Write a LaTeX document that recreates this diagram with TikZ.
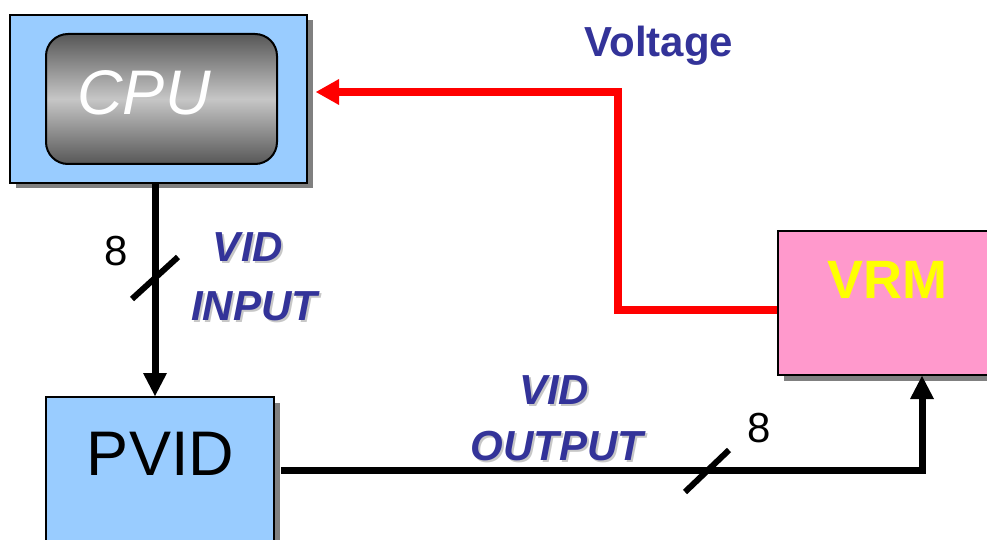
\documentclass[tikz,border=0pt]{standalone}
\usepackage{fontspec}
\setmainfont{Liberation Sans}
\usetikzlibrary{arrows.meta,shadows}
\definecolor{boxblue}{HTML}{99CCFF}
\definecolor{boxpink}{HTML}{FF99CC}
\definecolor{lblue}{HTML}{333399}
\definecolor{shadegray}{HTML}{808080}
\definecolor{cpudark}{HTML}{575757}
\definecolor{cpulight}{HTML}{C6C6C6}
\definecolor{vrmyellow}{HTML}{FFFF00}
\definecolor{wirered}{HTML}{FF0000}
\newcommand\shadowedtext[1]{\makebox[0pt][l]{\hspace{2pt}\raisebox{-2pt}{\textcolor{black!22}{#1}}}#1}
\begin{document}
\begin{tikzpicture}[x=1pt,y=-1pt,
  block/.style={draw=black,line width=2pt,inner sep=0pt,
    drop shadow={shadow xshift=5.5pt,shadow yshift=-5.5pt,fill=shadegray,opacity=1}},
  chip/.style={draw=black,line width=2pt,inner sep=0pt,rounded corners=22pt,
    top color=cpudark,bottom color=cpudark,middle color=cpulight},
  bigtxt/.style={anchor=base,inner sep=0pt,font=\fontsize{63}{63}\selectfont},
  numtxt/.style={anchor=base,inner sep=0pt,font=\fontsize{42}{42}\selectfont},
  vidtxt/.style={anchor=base,inner sep=0pt,text=lblue,font=\bfseries\itshape\fontsize{42}{42}\selectfont},
  conn/.style={line width=7pt,line join=miter,draw=black,
    -{Triangle[length=23pt,width=24pt,line width=0pt]}},
  redconn/.style={line width=7.5pt,line join=miter,draw=wirered,
    -{Triangle[length=23pt,width=26pt,line width=0pt]}},
  slashmark/.style={line width=6pt,draw=black}]
\useasboundingbox (0,0) rectangle (987,540);
\clip (0,0) rectangle (987,540);

% boxes
\node[block,fill=boxblue,minimum width=297pt,minimum height=168pt] (cpu) at (158.5,99) {};
\node[chip,minimum width=231pt,minimum height=130pt] (chip) at (161.5,99) {};
\node[bigtxt,text=white,font=\itshape\fontsize{63}{63}\selectfont] (cputext) at (144,115) {CPU};

\node[block,fill=boxblue,minimum width=228pt,minimum height=180pt] (pvid) at (160,487) {};
\node[bigtxt] (pvidtext) at (160.5,475) {PVID};

\node[block,fill=boxpink,minimum width=240pt,minimum height=144pt] (vrm) at (898,303) {};
\node[anchor=base,inner sep=0pt,text=vrmyellow,font=\bfseries\fontsize{54}{54}\selectfont] (vrmtext) at (887,298) {VRM};

% labels
\node[anchor=base,inner sep=0pt,text=lblue,font=\bfseries\fontsize{42}{42}\selectfont] (voltage) at (659,57) {Voltage};

\node[vidtxt] (vidin1) at (248,261) {\shadowedtext{VID}};
\node[vidtxt] (vidin2) at (254,320) {\shadowedtext{INPUT}};

\node[vidtxt] (vidout1) at (554,404) {\shadowedtext{VID}};
\node[vidtxt] (vidout2) at (557,460) {\shadowedtext{OUTPUT}};

\node[numtxt] (n8in) at (116,265) {8};
\node[numtxt] (n8out) at (759.5,442) {8};

% connectors
\coordinate (vx) at (155,0);
\coordinate (hy) at (0,470);
\coordinate (vx2) at (922,0);
\coordinate (ry1) at (0,310);
\coordinate (ry2) at (0,92);
\coordinate (rx) at (618,0);

\draw[conn] (cpu.south -| vx) -- (pvid.north -| vx);
\draw[conn] ([xshift=6pt]pvid.east |- hy) -- (vx2 |- hy) -- (vrm.south -| vx2);
\draw[redconn] (vrm.west |- ry1) -- (rx |- ry1) -- (rx |- ry2) -- ([xshift=8pt]cpu.east |- ry2);

% bus width slashes
\draw[slashmark] (132,299) -- (178,257);
\draw[slashmark] (685,492) -- (729,450);
\end{tikzpicture}
\end{document}
